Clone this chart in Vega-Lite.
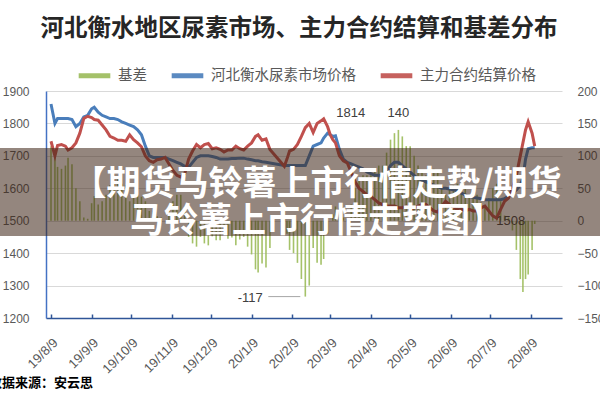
{
  "$schema": "https://vega.github.io/schema/vega-lite/v6.json",
  "width": 516,
  "height": 227,
  "autosize": {"type": "none"},
  "padding": {"left": 46, "top": 91, "right": 38, "bottom": 82},
  "background": "white",
  "config": {"view": {"stroke": null}, "axisY": {"tickCount": 8}},
  "title": {
    "text": "河北衡水地区尿素市场、主力合约结算和基差分布",
    "font": "Noto Sans CJK SC",
    "fontSize": 23.5,
    "fontWeight": "bold",
    "color": "#262626",
    "anchor": "middle",
    "frame": "group",
    "dx": -5,
    "offset": 17
  },
  "datasets": {
    "main": [
      {"date": "2019-08-09", "market": 1860, "settle": 1745, "basis": 115},
      {"date": "2019-08-12", "market": 1800, "settle": 1700, "basis": 100},
      {"date": "2019-08-14", "market": 1815, "settle": 1732, "basis": 83},
      {"date": "2019-08-17", "market": 1815, "settle": 1735, "basis": 80},
      {"date": "2019-08-20", "market": 1815, "settle": 1730, "basis": 85},
      {"date": "2019-08-22", "market": 1815, "settle": 1718, "basis": 97},
      {"date": "2019-08-25", "market": 1812, "settle": 1725, "basis": 87},
      {"date": "2019-08-28", "market": 1790, "settle": 1740, "basis": 50},
      {"date": "2019-08-31", "market": 1800, "settle": 1770, "basis": 30},
      {"date": "2019-09-03", "market": 1820, "settle": 1815, "basis": 5},
      {"date": "2019-09-06", "market": 1825, "settle": 1822, "basis": 3},
      {"date": "2019-09-09", "market": 1845, "settle": 1818, "basis": 27},
      {"date": "2019-09-11", "market": 1850, "settle": 1812, "basis": 38},
      {"date": "2019-09-14", "market": 1835, "settle": 1810, "basis": 25},
      {"date": "2019-09-17", "market": 1825, "settle": 1795, "basis": 30},
      {"date": "2019-09-20", "market": 1820, "settle": 1780, "basis": 40},
      {"date": "2019-09-23", "market": 1815, "settle": 1760, "basis": 55},
      {"date": "2019-09-26", "market": 1815, "settle": 1755, "basis": 60},
      {"date": "2019-09-29", "market": 1812, "settle": 1748, "basis": 64},
      {"date": "2019-10-02", "market": 1805, "settle": 1748, "basis": 57},
      {"date": "2019-10-05", "market": 1800, "settle": 1745, "basis": 55},
      {"date": "2019-10-08", "market": 1795, "settle": 1765, "basis": 30},
      {"date": "2019-10-11", "market": 1790, "settle": 1750, "basis": 40},
      {"date": "2019-10-14", "market": 1780, "settle": 1740, "basis": 40},
      {"date": "2019-10-17", "market": 1765, "settle": 1728, "basis": 37},
      {"date": "2019-10-20", "market": 1730, "settle": 1700, "basis": 30},
      {"date": "2019-10-23", "market": 1700, "settle": 1685, "basis": 15},
      {"date": "2019-10-26", "market": 1695, "settle": 1680, "basis": 15},
      {"date": "2019-10-29", "market": 1695, "settle": 1688, "basis": 7},
      {"date": "2019-11-01", "market": 1695, "settle": 1690, "basis": 5},
      {"date": "2019-11-04", "market": 1695, "settle": 1695, "basis": 0},
      {"date": "2019-11-07", "market": 1690, "settle": 1675, "basis": 15},
      {"date": "2019-11-10", "market": 1685, "settle": 1655, "basis": 30},
      {"date": "2019-11-13", "market": 1680, "settle": 1640, "basis": 40},
      {"date": "2019-11-16", "market": 1675, "settle": 1635, "basis": 40},
      {"date": "2019-11-19", "market": 1668, "settle": 1645, "basis": 23},
      {"date": "2019-11-22", "market": 1665, "settle": 1690, "basis": -25},
      {"date": "2019-11-25", "market": 1680, "settle": 1715, "basis": -35},
      {"date": "2019-11-28", "market": 1695, "settle": 1735, "basis": -40},
      {"date": "2019-12-01", "market": 1700, "settle": 1725, "basis": -25},
      {"date": "2019-12-04", "market": 1700, "settle": 1735, "basis": -35},
      {"date": "2019-12-07", "market": 1700, "settle": 1738, "basis": -38},
      {"date": "2019-12-10", "market": 1698, "settle": 1722, "basis": -24},
      {"date": "2019-12-13", "market": 1695, "settle": 1725, "basis": -30},
      {"date": "2019-12-16", "market": 1690, "settle": 1720, "basis": -30},
      {"date": "2019-12-19", "market": 1690, "settle": 1712, "basis": -22},
      {"date": "2019-12-22", "market": 1690, "settle": 1718, "basis": -28},
      {"date": "2019-12-25", "market": 1692, "settle": 1718, "basis": -26},
      {"date": "2019-12-28", "market": 1692, "settle": 1730, "basis": -38},
      {"date": "2019-12-31", "market": 1693, "settle": 1722, "basis": -29},
      {"date": "2020-01-03", "market": 1693, "settle": 1718, "basis": -25},
      {"date": "2020-01-06", "market": 1690, "settle": 1730, "basis": -40},
      {"date": "2020-01-09", "market": 1688, "settle": 1740, "basis": -52},
      {"date": "2020-01-12", "market": 1685, "settle": 1760, "basis": -75},
      {"date": "2020-01-14", "market": 1685, "settle": 1765, "basis": -80},
      {"date": "2020-01-17", "market": 1682, "settle": 1748, "basis": -66},
      {"date": "2020-01-20", "market": 1680, "settle": 1752, "basis": -72},
      {"date": "2020-01-23", "market": 1678, "settle": 1720, "basis": -42},
      {"date": "2020-02-03", "market": 1670, "settle": 1668, "basis": 2},
      {"date": "2020-02-05", "market": 1670, "settle": 1690, "basis": -20},
      {"date": "2020-02-07", "market": 1670, "settle": 1715, "basis": -45},
      {"date": "2020-02-10", "market": 1670, "settle": 1720, "basis": -50},
      {"date": "2020-02-13", "market": 1670, "settle": 1735, "basis": -65},
      {"date": "2020-02-16", "market": 1670, "settle": 1760, "basis": -90},
      {"date": "2020-02-19", "market": 1670, "settle": 1787, "basis": -117},
      {"date": "2020-02-22", "market": 1700, "settle": 1800, "basis": -100},
      {"date": "2020-02-25", "market": 1730, "settle": 1772, "basis": -42},
      {"date": "2020-02-28", "market": 1735, "settle": 1800, "basis": -65},
      {"date": "2020-03-02", "market": 1740, "settle": 1808, "basis": -68},
      {"date": "2020-03-04", "market": 1755, "settle": 1814, "basis": -59},
      {"date": "2020-03-07", "market": 1770, "settle": 1790, "basis": -20},
      {"date": "2020-03-09", "market": 1765, "settle": 1765, "basis": 0},
      {"date": "2020-03-11", "market": 1760, "settle": 1750, "basis": 10},
      {"date": "2020-03-13", "market": 1762, "settle": 1740, "basis": 22},
      {"date": "2020-03-16", "market": 1720, "settle": 1700, "basis": 20},
      {"date": "2020-03-19", "market": 1690, "settle": 1685, "basis": 5},
      {"date": "2020-03-22", "market": 1680, "settle": 1678, "basis": 2},
      {"date": "2020-03-25", "market": 1675, "settle": 1650, "basis": 25},
      {"date": "2020-03-28", "market": 1670, "settle": 1620, "basis": 50},
      {"date": "2020-03-31", "market": 1665, "settle": 1600, "basis": 65},
      {"date": "2020-04-03", "market": 1660, "settle": 1590, "basis": 70},
      {"date": "2020-04-06", "market": 1650, "settle": 1580, "basis": 70},
      {"date": "2020-04-09", "market": 1645, "settle": 1575, "basis": 70},
      {"date": "2020-04-12", "market": 1640, "settle": 1565, "basis": 75},
      {"date": "2020-04-15", "market": 1640, "settle": 1555, "basis": 85},
      {"date": "2020-04-18", "market": 1635, "settle": 1550, "basis": 85},
      {"date": "2020-04-21", "market": 1650, "settle": 1545, "basis": 105},
      {"date": "2020-04-24", "market": 1670, "settle": 1545, "basis": 125},
      {"date": "2020-04-27", "market": 1680, "settle": 1545, "basis": 135},
      {"date": "2020-04-30", "market": 1680, "settle": 1540, "basis": 140},
      {"date": "2020-05-03", "market": 1670, "settle": 1540, "basis": 130},
      {"date": "2020-05-06", "market": 1660, "settle": 1545, "basis": 115},
      {"date": "2020-05-09", "market": 1650, "settle": 1535, "basis": 115},
      {"date": "2020-05-12", "market": 1640, "settle": 1540, "basis": 100},
      {"date": "2020-05-15", "market": 1630, "settle": 1545, "basis": 85},
      {"date": "2020-05-18", "market": 1625, "settle": 1550, "basis": 75},
      {"date": "2020-05-21", "market": 1620, "settle": 1550, "basis": 70},
      {"date": "2020-05-24", "market": 1615, "settle": 1540, "basis": 75},
      {"date": "2020-05-27", "market": 1610, "settle": 1530, "basis": 80},
      {"date": "2020-05-30", "market": 1605, "settle": 1527, "basis": 78},
      {"date": "2020-06-02", "market": 1600, "settle": 1545, "basis": 55},
      {"date": "2020-06-05", "market": 1600, "settle": 1560, "basis": 40},
      {"date": "2020-06-08", "market": 1598, "settle": 1550, "basis": 48},
      {"date": "2020-06-11", "market": 1595, "settle": 1540, "basis": 55},
      {"date": "2020-06-14", "market": 1592, "settle": 1535, "basis": 57},
      {"date": "2020-06-17", "market": 1585, "settle": 1535, "basis": 50},
      {"date": "2020-06-20", "market": 1580, "settle": 1530, "basis": 50},
      {"date": "2020-06-23", "market": 1575, "settle": 1535, "basis": 40},
      {"date": "2020-06-26", "market": 1572, "settle": 1530, "basis": 42},
      {"date": "2020-06-29", "market": 1570, "settle": 1530, "basis": 40},
      {"date": "2020-07-02", "market": 1568, "settle": 1540, "basis": 28},
      {"date": "2020-07-05", "market": 1565, "settle": 1545, "basis": 20},
      {"date": "2020-07-08", "market": 1565, "settle": 1530, "basis": 35},
      {"date": "2020-07-11", "market": 1565, "settle": 1515, "basis": 50},
      {"date": "2020-07-14", "market": 1565, "settle": 1508, "basis": 57},
      {"date": "2020-07-17", "market": 1565, "settle": 1535, "basis": 30},
      {"date": "2020-07-20", "market": 1568, "settle": 1560, "basis": 8},
      {"date": "2020-07-23", "market": 1575, "settle": 1570, "basis": 5},
      {"date": "2020-07-26", "market": 1585, "settle": 1600, "basis": -15},
      {"date": "2020-07-29", "market": 1595, "settle": 1640, "basis": -45},
      {"date": "2020-08-01", "market": 1610, "settle": 1700, "basis": -90},
      {"date": "2020-08-03", "market": 1630, "settle": 1740, "basis": -110},
      {"date": "2020-08-05", "market": 1690, "settle": 1780, "basis": -90},
      {"date": "2020-08-07", "market": 1722, "settle": 1805, "basis": -83},
      {"date": "2020-08-10", "market": 1725, "settle": 1770, "basis": -45},
      {"date": "2020-08-12", "market": 1725, "settle": 1730, "basis": -5}
    ],
    "notes": [
      {"date": "2020-03-04", "value": 1814, "label": "1814"},
      {"date": "2020-07-14", "value": 1508, "label": "1508"},
      {"date": "2020-04-30", "value": 140, "label": "140"},
      {"date": "2020-02-19", "value": -117, "label": "-117"}
    ]
  },
  "data": {"name": "main"},
  "encoding": {
    "x": {
      "field": "date",
      "type": "temporal",
      "scale": {
        "type": "utc",
        "domain": [
          {"year": 2019, "month": 8, "date": 9, "utc": true},
          {"year": 2020, "month": 8, "date": 29, "utc": true}
        ]
      },
      "axis": {
        "title": null,
        "values": [
          {"year": 2019, "month": 8, "date": 9, "utc": true},
          {"year": 2019, "month": 9, "date": 9, "utc": true},
          {"year": 2019, "month": 10, "date": 9, "utc": true},
          {"year": 2019, "month": 11, "date": 9, "utc": true},
          {"year": 2019, "month": 12, "date": 9, "utc": true},
          {"year": 2020, "month": 1, "date": 9, "utc": true},
          {"year": 2020, "month": 2, "date": 9, "utc": true},
          {"year": 2020, "month": 3, "date": 9, "utc": true},
          {"year": 2020, "month": 4, "date": 9, "utc": true},
          {"year": 2020, "month": 5, "date": 9, "utc": true},
          {"year": 2020, "month": 6, "date": 9, "utc": true},
          {"year": 2020, "month": 7, "date": 9, "utc": true},
          {"year": 2020, "month": 8, "date": 9, "utc": true}
        ],
        "format": "%y/%-m/%-d",
        "labelAngle": -45,
        "labelFont": "Liberation Sans",
        "labelFontSize": 13,
        "labelColor": "#595959",
        "labelPadding": 22,
        "labelOverlap": false,
        "labelBound": false,
        "labelFlush": false,
        "domainColor": "#2F5597",
        "domainWidth": 1.5,
        "tickColor": "#2F5597",
        "tickWidth": 1.5,
        "tickSize": -4,
        "grid": false
      }
    }
  },
  "layer": [
    {
      "layer": [
        {
          "mark": {"type": "bar", "size": 1.6, "opacity": 0.9},
          "encoding": {
            "y": {
              "field": "basis",
              "type": "quantitative",
              "scale": {"domain": [-150, 200], "nice": false},
              "axis": {
                "orient": "right",
                "title": null,
                "values": [-150, -100, -50, 0, 50, 100, 150, 200],
                "tickCount": 8,
                "labelOverlap": false,
                "grid": false,
                "domain": false,
                "ticks": false,
                "labelPadding": 15,
                "labelFont": "Liberation Sans",
                "labelFontSize": 12,
                "labelColor": "#595959"
              }
            },
            "color": {
              "datum": "基差",
              "scale": {
                "domain": ["基差", "河北衡水尿素市场价格", "主力合约结算价格"],
                "range": ["#9BBB59", "#4A7EBB", "#C0504D"]
              },
              "legend": {
                "orient": "none",
                "legendX": 30,
                "legendY": -34,
                "direction": "horizontal",
                "title": null,
                "symbolType": "stroke",
                "symbolSize": 1000,
                "symbolStrokeWidth": 5,
                "labelFont": "Noto Sans CJK SC",
                "labelFontSize": 14.5,
                "labelColor": "#595959",
                "labelOffset": 5,
                "columnPadding": 14
              }
            }
          }
        },
        {
          "data": {"name": "notes"},
          "transform": [{"filter": "datum.label == '140'"}],
          "mark": {"type": "text", "font": "Liberation Sans", "fontSize": 13, "color": "#404040", "align": "center", "baseline": "middle", "dy": -17},
          "encoding": {
            "y": {
              "field": "value",
              "type": "quantitative",
              "axis": {
                "orient": "right",
                "title": null,
                "values": [-150, -100, -50, 0, 50, 100, 150, 200],
                "tickCount": 8,
                "labelOverlap": false,
                "grid": false,
                "domain": false,
                "ticks": false,
                "labelPadding": 15,
                "labelFont": "Liberation Sans",
                "labelFontSize": 12,
                "labelColor": "#595959"
              }
            },
            "text": {"field": "label"}
          }
        },
        {
          "data": {"name": "notes"},
          "transform": [{"filter": "datum.label == '-117'"}],
          "mark": {"type": "text", "font": "Liberation Sans", "fontSize": 13, "color": "#404040", "align": "center", "baseline": "middle", "dx": -55, "dy": 1},
          "encoding": {
            "y": {
              "field": "value",
              "type": "quantitative",
              "axis": {
                "orient": "right",
                "title": null,
                "values": [-150, -100, -50, 0, 50, 100, 150, 200],
                "tickCount": 8,
                "labelOverlap": false,
                "grid": false,
                "domain": false,
                "ticks": false,
                "labelPadding": 15,
                "labelFont": "Liberation Sans",
                "labelFontSize": 12,
                "labelColor": "#595959"
              }
            },
            "text": {"field": "label"}
          }
        },
        {
          "data": {"name": "notes"},
          "transform": [{"filter": "datum.label == '-117'"}],
          "mark": {"type": "rule", "color": "#A6A6A6", "strokeWidth": 1, "xOffset": -37, "x2Offset": -5},
          "encoding": {
            "y": {
              "field": "value",
              "type": "quantitative",
              "axis": {
                "orient": "right",
                "title": null,
                "values": [-150, -100, -50, 0, 50, 100, 150, 200],
                "tickCount": 8,
                "labelOverlap": false,
                "grid": false,
                "domain": false,
                "ticks": false,
                "labelPadding": 15,
                "labelFont": "Liberation Sans",
                "labelFontSize": 12,
                "labelColor": "#595959"
              }
            },
            "x2": {"field": "date"}
          }
        }
      ]
    },
    {
      "layer": [
        {
          "mark": {"type": "line", "strokeWidth": 3},
          "encoding": {
            "y": {
              "field": "market",
              "type": "quantitative",
              "scale": {"domain": [1200, 1900], "nice": false, "zero": false},
              "axis": {
                "orient": "left",
                "title": null,
                "format": "d",
                "values": [1200, 1300, 1400, 1500, 1600, 1700, 1800, 1900],
                "tickCount": 8,
                "labelOverlap": false,
                "grid": true,
                "gridColor": "#D9D9D9",
                "gridWidth": 1,
                "domainColor": "#4472C4",
                "domainWidth": 1.5,
                "ticks": false,
                "labelPadding": 17,
                "labelFont": "Liberation Sans",
                "labelFontSize": 12,
                "labelColor": "#595959"
              }
            },
            "color": {"datum": "河北衡水尿素市场价格"}
          }
        },
        {
          "mark": {"type": "line", "strokeWidth": 3},
          "encoding": {
            "y": {
              "field": "settle",
              "type": "quantitative",
              "axis": {
                "orient": "left",
                "title": null,
                "format": "d",
                "values": [1200, 1300, 1400, 1500, 1600, 1700, 1800, 1900],
                "tickCount": 8,
                "labelOverlap": false,
                "grid": true,
                "gridColor": "#D9D9D9",
                "gridWidth": 1,
                "domainColor": "#4472C4",
                "domainWidth": 1.5,
                "ticks": false,
                "labelPadding": 17,
                "labelFont": "Liberation Sans",
                "labelFontSize": 12,
                "labelColor": "#595959"
              }
            },
            "color": {"datum": "主力合约结算价格"}
          }
        },
        {
          "data": {"name": "notes"},
          "transform": [{"filter": "datum.label == '1814'"}],
          "mark": {"type": "text", "font": "Liberation Sans", "fontSize": 13, "color": "#404040", "align": "center", "baseline": "middle", "dx": 27, "dy": -6},
          "encoding": {
            "y": {
              "field": "value",
              "type": "quantitative",
              "axis": {
                "orient": "left",
                "title": null,
                "format": "d",
                "values": [1200, 1300, 1400, 1500, 1600, 1700, 1800, 1900],
                "tickCount": 8,
                "labelOverlap": false,
                "grid": true,
                "gridColor": "#D9D9D9",
                "gridWidth": 1,
                "domainColor": "#4472C4",
                "domainWidth": 1.5,
                "ticks": false,
                "labelPadding": 17,
                "labelFont": "Liberation Sans",
                "labelFontSize": 12,
                "labelColor": "#595959"
              }
            },
            "text": {"field": "label"}
          }
        },
        {
          "data": {"name": "notes"},
          "transform": [{"filter": "datum.label == '1508'"}],
          "mark": {"type": "text", "font": "Liberation Sans", "fontSize": 13, "color": "#404040", "align": "center", "baseline": "middle", "dx": 14, "dy": 3},
          "encoding": {
            "y": {
              "field": "value",
              "type": "quantitative",
              "axis": {
                "orient": "left",
                "title": null,
                "format": "d",
                "values": [1200, 1300, 1400, 1500, 1600, 1700, 1800, 1900],
                "tickCount": 8,
                "labelOverlap": false,
                "grid": true,
                "gridColor": "#D9D9D9",
                "gridWidth": 1,
                "domainColor": "#4472C4",
                "domainWidth": 1.5,
                "ticks": false,
                "labelPadding": 17,
                "labelFont": "Liberation Sans",
                "labelFontSize": 12,
                "labelColor": "#595959"
              }
            },
            "text": {"field": "label"}
          }
        },
        {
          "transform": [
            {"aggregate": [{"op": "min", "field": "date", "as": "first"}, {"op": "max", "field": "date", "as": "last"}]}
          ],
          "mark": {"type": "rect", "color": "#3C2314", "opacity": 0.55, "clip": false, "xOffset": -60, "x2Offset": 80},
          "encoding": {
            "x": {"field": "first", "type": "temporal"},
            "x2": {"field": "last"},
            "y": {"datum": 1724},
            "y2": {"datum": 1453}
          }
        },
        {
          "transform": [
            {"aggregate": [{"op": "min", "field": "date", "as": "first"}]}
          ],
          "mark": {"type": "text", "font": "Noto Sans CJK SC", "fontSize": 34, "fontWeight": "bold", "color": "white", "align": "center", "baseline": "middle", "dx": 266, "dy": 2},
          "encoding": {
            "x": {"field": "first", "type": "temporal"},
            "y": {"datum": 1616},
            "text": {"value": "【期货马铃薯上市行情走势/期货"}
          }
        },
        {
          "transform": [
            {"aggregate": [{"op": "min", "field": "date", "as": "first"}]}
          ],
          "mark": {"type": "text", "font": "Noto Sans CJK SC", "fontSize": 34, "fontWeight": "bold", "color": "white", "align": "center", "baseline": "middle", "dx": 266, "dy": 4},
          "encoding": {
            "x": {"field": "first", "type": "temporal"},
            "y": {"datum": 1508},
            "text": {"value": "马铃薯上市行情走势图】"}
          }
        },
        {
          "transform": [
            {"aggregate": [{"op": "min", "field": "date", "as": "first"}]}
          ],
          "mark": {"type": "text", "font": "Noto Sans CJK SC", "fontSize": 13, "fontWeight": "bold", "color": "#000000", "align": "right", "baseline": "middle", "dx": 42},
          "encoding": {
            "x": {"field": "first", "type": "temporal"},
            "y": {"datum": 1000},
            "text": {"value": "数据来源：安云思"}
          }
        }
      ]
    }
  ],
  "resolve": {"scale": {"y": "independent"}}
}
